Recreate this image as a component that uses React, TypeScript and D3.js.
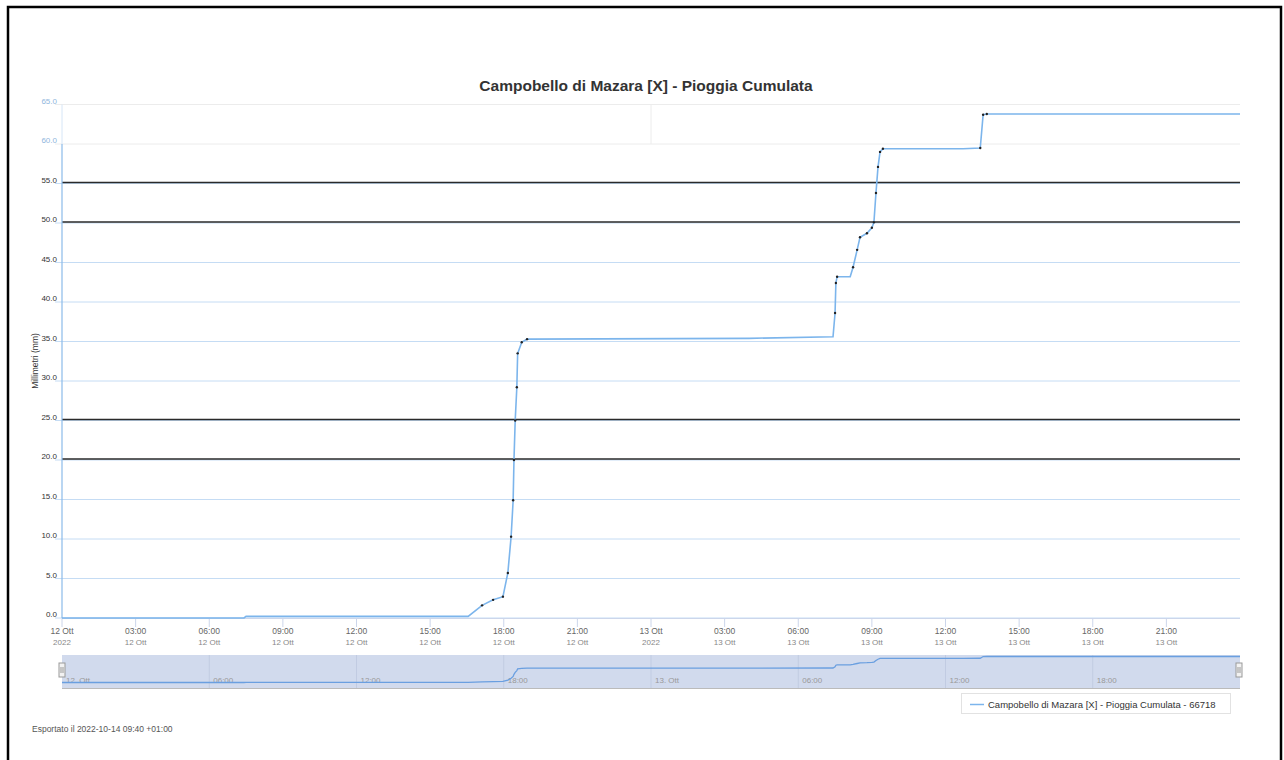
import React from "react";
import * as d3 from "d3";

const TITLE = "Campobello di Mazara [X] - Pioggia Cumulata";
const LEGEND = "Campobello di Mazara [X] - Pioggia Cumulata - 66718";
const FOOTER = "Esportato il 2022-10-14 09:40 +01:00";
const Y_TITLE = "Millimetri (mm)";

const times: string[] = [
  "2022-10-12 00:00", "2022-10-12 07:25", "2022-10-12 07:30", "2022-10-12 16:33",
  "2022-10-12 17:07", "2022-10-12 17:34", "2022-10-12 17:58", "2022-10-12 18:10",
  "2022-10-12 18:18", "2022-10-12 18:23", "2022-10-12 18:25", "2022-10-12 18:28",
  "2022-10-12 18:32", "2022-10-12 18:34", "2022-10-12 18:44", "2022-10-12 18:57",
  "2022-10-13 04:00", "2022-10-13 07:25", "2022-10-13 07:30", "2022-10-13 07:32",
  "2022-10-13 07:35", "2022-10-13 08:07", "2022-10-13 08:14", "2022-10-13 08:24",
  "2022-10-13 08:31", "2022-10-13 08:48", "2022-10-13 09:00", "2022-10-13 09:05",
  "2022-10-13 09:10", "2022-10-13 09:15", "2022-10-13 09:20", "2022-10-13 09:27",
  "2022-10-13 12:43", "2022-10-13 13:25", "2022-10-13 13:32", "2022-10-13 13:41",
  "2022-10-14 00:00",
];
const values: number[] = [
  0, 0, 0.2, 0.2,
  1.6, 2.3, 2.7, 5.7,
  10.3, 14.9, 20.0, 25.0,
  29.2, 33.5, 34.9, 35.3,
  35.4, 35.6, 38.6, 42.4,
  43.2, 43.2, 44.4, 46.6,
  48.2, 48.7, 49.4, 50.1,
  53.8, 57.1, 59.0, 59.4,
  59.4, 59.5, 63.7, 63.8,
  63.8,
];

const yTicks: number[] = [0, 5, 10, 15, 20, 25, 30, 35, 40, 45, 50, 55, 60, 65];
const darkLevels: number[] = [20, 25, 50, 55];
const fadedLevels: number[] = [60, 65];
const domainStart = "2022-10-12 00:00";
const domainEnd = "2022-10-14 00:00";

const parse = d3.timeParse("%Y-%m-%d %H:%M");
const FONT = "'Liberation Sans', Arial, sans-serif";

export default function App() {
  const data = times.map((t, i) => ({ t: parse(t) as Date, v: values[i] }));
  const x = d3.scaleTime().domain([parse(domainStart) as Date, parse(domainEnd) as Date]).range([62, 1240]);
  const y = d3.scaleLinear().domain([0, 65]).range([618, 104.5]);
  const ny = d3.scaleLinear().domain([0, 63.8]).range([682.5, 656.5]);

  const line = d3.line<{ t: Date; v: number }>().x((d) => x(d.t)).y((d) => y(d.v));
  const navLine = d3.line<{ t: Date; v: number }>().x((d) => x(d.t)).y((d) => ny(d.v));

  const end = +x.domain()[1];
  const xTicks = x.ticks(d3.timeHour.every(3) as any).filter((d) => +d < end);
  const navTicks = x.ticks(d3.timeHour.every(6) as any).filter((d) => +d < end);
  const fmtHM = d3.timeFormat("%H:%M");
  const fmtDay = (d: Date) => `${d.getDate()} Ott`;

  const markers = data.filter((d, i) => {
    if (i === 0 || d.v < 0.3) return false;
    const p = data[i - 1];
    return d.v !== p.v && +d.t - +p.t < 60 * 60 * 1000;
  });

  return (
    <svg width={1284} height={760} style={{ position: "absolute", left: 0, top: 0, background: "#fff" }} fontFamily={FONT}>
      <rect x={8} y={7} width={1273} height={800} fill="#fff" stroke="#000" strokeWidth={2.5} />
      <text x={646} y={91} textAnchor="middle" fontSize={15.5} fontWeight="bold" fill="#333">{TITLE}</text>

      {/* grid */}
      {yTicks.map((t) => (
        <line key={"g" + t} x1={55} x2={1240} y1={y(t)} y2={y(t)}
          stroke={fadedLevels.includes(t) ? "#ececec" : "#c5dcf4"} strokeWidth={1} />
      ))}
      <line x1={x(parse("2022-10-13 00:00") as Date)} x2={x(parse("2022-10-13 00:00") as Date)} y1={y(65)} y2={y(60)} stroke="#ececec" />
      {darkLevels.map((t) => (
        <line key={"d" + t} x1={62} x2={1240} y1={y(t) - 1} y2={y(t) - 1} stroke="#2a2a2a" strokeWidth={1.5} />
      ))}
      {/* y axis */}
      <line x1={62} x2={62} y1={y(65)} y2={y(60)} stroke="#d6e6f7" />
      <line x1={62} x2={62} y1={y(60)} y2={618} stroke="#8bbbea" strokeWidth={1.2} />
      {yTicks.map((t) => (
        <text key={"yl" + t} x={57} y={y(t) - 1} textAnchor="end" fontSize={8}
          fill={fadedLevels.includes(t) ? "#8fb6dd" : "#333"}>{t.toFixed(1)}</text>
      ))}
      <text transform="translate(38,361) rotate(-90)" textAnchor="middle" fontSize={8.5} fill="#333">{Y_TITLE}</text>

      {/* x axis */}
      <line x1={62} x2={1240} y1={618.5} y2={618.5} stroke="#ccd6eb" />
      {xTicks.map((d, i) => (
        <g key={"xt" + i}>
          <line x1={x(d)} x2={x(d)} y1={618} y2={627} stroke="#ccd6eb" />
          <text x={x(d)} y={634} textAnchor="middle" fontSize={8.5} fill="#666">
            {d.getHours() === 0 ? fmtDay(d) : fmtHM(d)}
          </text>
          <text x={x(d)} y={645} textAnchor="middle" fontSize={8} fill="#888">
            {d.getHours() === 0 ? "2022" : fmtDay(d)}
          </text>
        </g>
      ))}

      {/* series */}
      <path d={line(data) || ""} fill="none" stroke="#7cb5ec" strokeWidth={1.6} />
      {markers.map((d, i) => (
        <circle key={"m" + i} cx={x(d.t)} cy={y(d.v)} r={1.2} fill="#222" />
      ))}

      {/* navigator */}
      <rect x={62} y={655} width={1178} height={33} fill="rgba(102,133,194,0.3)" />
      {navTicks.map((d, i) => (
        <g key={"nt" + i}>
          {i > 0 && <line x1={x(d)} x2={x(d)} y1={655} y2={688} stroke="rgba(80,100,150,0.12)" />}
          <text x={x(d) + 4} y={683} fontSize={8} fill="#999">
            {d.getHours() === 0 ? `${d.getDate()}. Ott` : fmtHM(d)}
          </text>
        </g>
      ))}
      <path d={navLine(data) || ""} fill="none" stroke="#6a9fe0" strokeWidth={1.3} />
      <line x1={62} x2={1240} y1={688.5} y2={688.5} stroke="#bbb" />
      {[62, 1239].map((hx) => (
        <g key={"h" + hx}>
          <rect x={hx - 3} y={663} width={6} height={14} fill="#f2f2f2" stroke="#999" />
          <line x1={hx - 1} x2={hx - 1} y1={667} y2={673} stroke="#999" />
          <line x1={hx + 1} x2={hx + 1} y1={667} y2={673} stroke="#999" />
        </g>
      ))}

      {/* legend */}
      <rect x={961.5} y={693.5} width={269} height={20} fill="#fff" stroke="#e2e2e2" />
      <line x1={970} x2={984} y1={704.5} y2={704.5} stroke="#7cb5ec" strokeWidth={1.5} />
      <text x={988} y={708} fontSize={9.5} fill="#333">{LEGEND}</text>

      <text x={32} y={732} fontSize={8.5} fill="#555">{FOOTER}</text>
    </svg>
  );
}
